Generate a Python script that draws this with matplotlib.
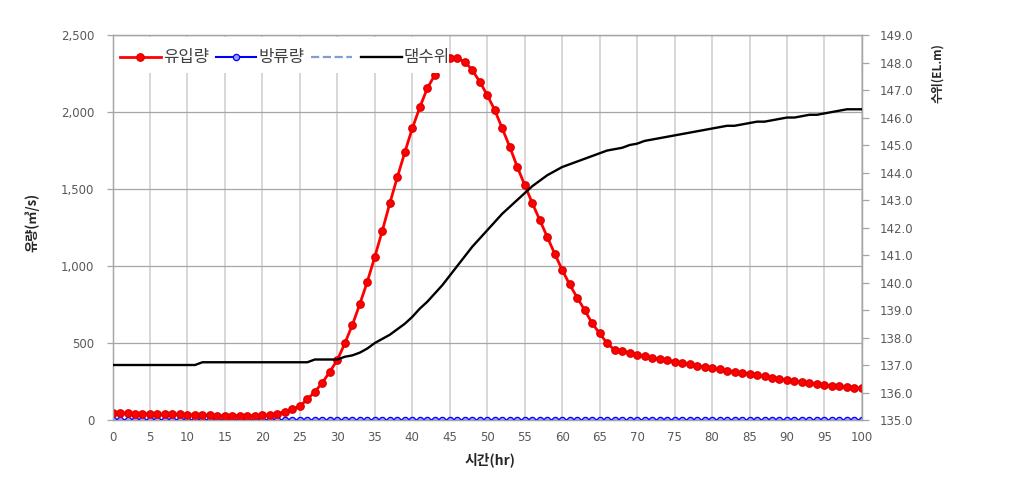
import matplotlib
matplotlib.use("Agg")
import matplotlib.pyplot as plt
from matplotlib.patches import Rectangle
from matplotlib.ticker import FuncFormatter, MultipleLocator

hours = list(range(0, 101))

inflow = [45, 44, 43, 42, 41, 40, 39, 38, 37, 36,
          35, 33, 31, 30, 29, 28, 28, 28, 28, 29,
          30, 33, 40, 54, 69, 91, 134, 184, 242, 314,
          390, 498, 617, 753, 898, 1060, 1229, 1407, 1576, 1738,
          1894, 2030, 2154, 2240, 2310, 2348, 2348, 2327, 2273, 2197,
          2110, 2013, 1894, 1775, 1645, 1526, 1410, 1300, 1190, 1080,
          975, 880, 795, 714, 628, 563, 498, 455, 447, 437,
          422, 413, 404, 396, 387, 379, 370, 361, 353, 344,
          336, 329, 321, 314, 306, 299, 291, 283, 276, 268,
          260, 253, 247, 240, 234, 227, 223, 219, 214, 210,
          206]

outflow = [0, 0, 0, 0, 0, 0, 0, 0, 0, 0,
           0, 0, 0, 0, 0, 0, 0, 0, 0, 0,
           0, 0, 0, 0, 0, 0, 0, 0, 0, 0,
           0, 0, 0, 0, 0, 0, 0, 0, 0, 0,
           0, 0, 0, 0, 0, 0, 0, 0, 0, 0,
           0, 0, 0, 0, 0, 0, 0, 0, 0, 0,
           0, 0, 0, 0, 0, 0, 0, 0, 0, 0,
           0, 0, 0, 0, 0, 0, 0, 0, 0, 0,
           0, 0, 0, 0, 0, 0, 0, 0, 0, 0,
           0, 0, 0, 0, 0, 0, 0, 0, 0, 0,
           0]

level = [137.0, 137.0, 137.0, 137.0, 137.0, 137.0, 137.0, 137.0, 137.0, 137.0,
         137.0, 137.0, 137.1, 137.1, 137.1, 137.1, 137.1, 137.1, 137.1, 137.1,
         137.1, 137.1, 137.1, 137.1, 137.1, 137.1, 137.1, 137.2, 137.2, 137.2,
         137.2, 137.3, 137.35, 137.45, 137.6, 137.8, 137.95, 138.1, 138.3, 138.5,
         138.75, 139.05, 139.3, 139.6, 139.9, 140.25, 140.6, 140.95, 141.3, 141.6,
         141.9, 142.2, 142.5, 142.75, 143.0, 143.25, 143.5, 143.7, 143.9, 144.05,
         144.2, 144.3, 144.4, 144.5, 144.6, 144.7, 144.8, 144.85, 144.9, 145.0,
         145.05, 145.15, 145.2, 145.25, 145.3, 145.35, 145.4, 145.45, 145.5, 145.55,
         145.6, 145.65, 145.7, 145.7, 145.75, 145.8, 145.85, 145.85, 145.9, 145.95,
         146.0, 146.0, 146.05, 146.1, 146.1, 146.15, 146.2, 146.25, 146.3, 146.3,
         146.3]

series_names = ["유입량", "방류량", "", "댐수위"]
x_label = "시간(hr)"
y_left_label = "유량(㎥/s)"
y_right_label = "수위(EL.m)"

KR = ["Noto Sans CJK KR", "DejaVu Sans"]
plt.rcParams["font.family"] = ["DejaVu Sans", "Noto Sans CJK KR"]

tick_color = "#595959"
grid_h = "#a6a6a6"
grid_v = "#d4d4d4"

fig = plt.figure(figsize=(10.1, 4.8), dpi=100)
ax = fig.add_axes([0.1114, 0.125, 0.742, 0.802])
ax2 = ax.twinx()

ax.set_xlim(0, 100)
ax.set_ylim(0, 2500)
ax2.set_ylim(135, 149)

ax.xaxis.set_major_locator(MultipleLocator(5))
ax.yaxis.set_major_locator(MultipleLocator(500))
ax2.yaxis.set_major_locator(MultipleLocator(1.0))
ax.yaxis.set_major_formatter(FuncFormatter(lambda v, p: f"{v:,.0f}"))
ax2.yaxis.set_major_formatter(FuncFormatter(lambda v, p: f"{v:.1f}"))

ax.grid(axis="x", color=grid_v, linewidth=1.3, zorder=0)
ax.grid(axis="y", color=grid_h, linewidth=0.9, zorder=0)
ax.set_axisbelow(True)

l3, = ax.plot(hours, outflow, color="#7f9fd0", linestyle="--", linewidth=1.6, zorder=2)
l2, = ax.plot(hours, outflow, color="#0000ff", linewidth=1.5, marker="o", markersize=4.5,
              markerfacecolor="#9a9aff", markeredgecolor="#0000ff", markeredgewidth=0.9, zorder=3)
l1, = ax.plot(hours, inflow, color="#ff0000", linewidth=2.0, marker="o", markersize=5.3,
              markerfacecolor="#ff0000", markeredgecolor="#e00000", zorder=4)
l4, = ax2.plot(hours, level, color="black", linewidth=1.7, zorder=3)

for a in (ax, ax2):
    for s in a.spines.values():
        s.set_color(grid_h)
        s.set_linewidth(0.9)

ax.tick_params(axis="x", length=0, pad=8, labelsize=8.5, labelcolor=tick_color)
ax.tick_params(axis="y", length=4, width=0.9, color=grid_h, pad=9, labelsize=8.5, labelcolor=tick_color)
ax2.tick_params(axis="y", length=5, width=0.9, color=grid_h, pad=8, labelsize=8.5, labelcolor=tick_color)

ax.set_xlabel(x_label, family=KR, fontsize=10, fontweight="bold", color="#262626")
ax.xaxis.set_label_coords(0.504, -0.084)
ax.set_ylabel(y_left_label, family=KR, fontsize=9.5, fontweight="bold", color="#262626")
ax.yaxis.set_label_coords(-0.097, 0.514)
ax2.set_ylabel(y_right_label, family=KR, fontsize=8.5, fontweight="bold", color="#262626")
ax2.yaxis.set_label_coords(1.092, 0.90)

# white legend background area (covers gridlines and lines behind the legend)
ax.add_patch(Rectangle((0.0033, 0.9013), 0.4456, 0.0935, transform=ax.transAxes,
                       facecolor="white", edgecolor="none", zorder=9))

leg = ax.legend([l1, l2, l3, l4], series_names, loc="center left", ncol=4,
                bbox_to_anchor=(0.0100, 0.9405), borderaxespad=0.0, borderpad=0.0,
                frameon=False,
                handlelength=2.45, handletextpad=0.12, columnspacing=0.4,
                prop={"family": KR, "size": 12})
for t in leg.get_texts():
    t.set_color("#404040")
leg.set_zorder(10)

fig.savefig("out.png", dpi=100, facecolor="white")
